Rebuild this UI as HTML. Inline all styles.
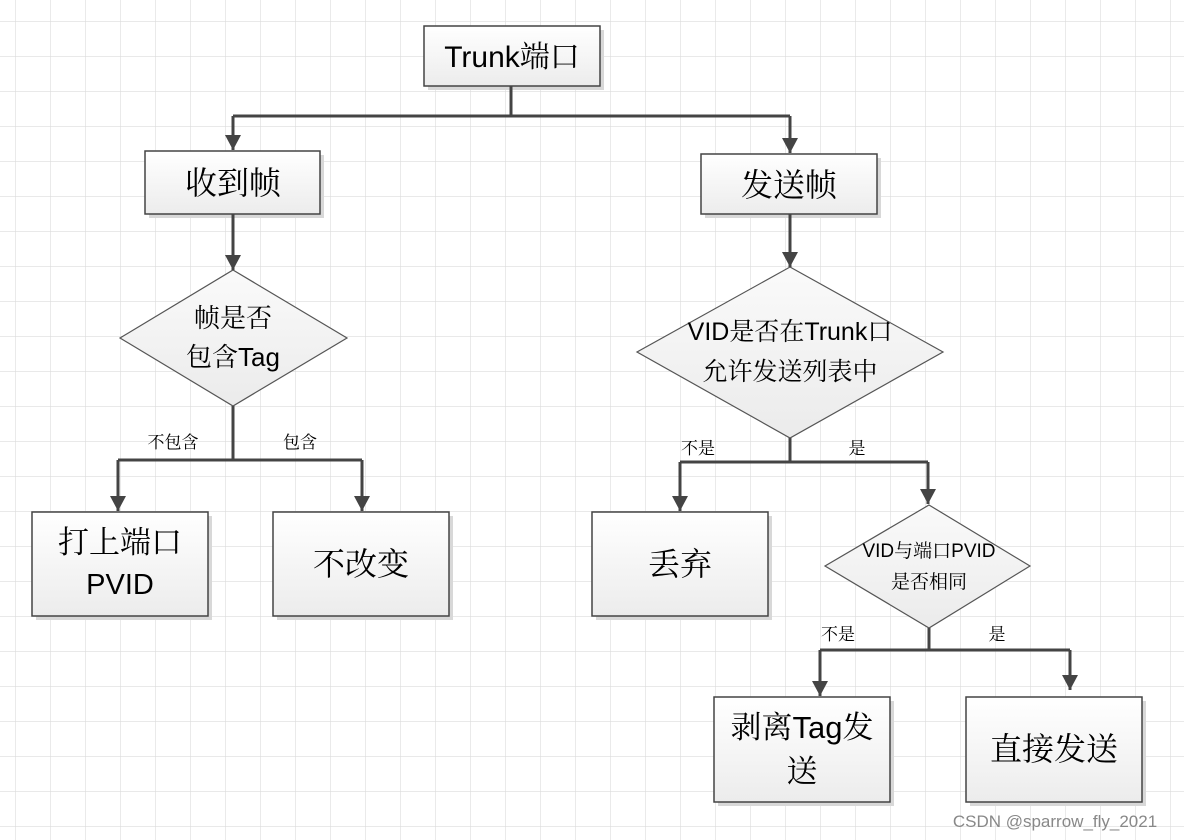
<!DOCTYPE html>
<html><head><meta charset="utf-8"><style>
html,body{margin:0;padding:0;background:#fff;}
svg{display:block;}
text{font-family:"Liberation Sans","Noto Serif CJK SC",serif;fill:#000;text-anchor:middle;}
</style></head><body>
<svg width="1184" height="840" viewBox="0 0 1184 840" xmlns="http://www.w3.org/2000/svg">
<defs>
<pattern id="g" x="15" y="21" width="35" height="35" patternUnits="userSpaceOnUse">
<path d="M0 0H35M0 0V35" stroke="#dcdcdc" stroke-width="1.2" fill="none"/>
</pattern>
<linearGradient id="bg" x1="0" y1="0" x2="0" y2="1"><stop offset="0" stop-color="#fff"/><stop offset="1" stop-color="#ececec"/></linearGradient>
<linearGradient id="dg" x1="0" y1="0" x2="0" y2="1"><stop offset="0" stop-color="#fafafa"/><stop offset="1" stop-color="#ebebeb"/></linearGradient>
<marker id="a" markerWidth="15" markerHeight="16" refX="15" refY="8" orient="auto" markerUnits="userSpaceOnUse" viewBox="0 0 15 16">
<path d="M0 0L15 8L0 16Z" fill="#444"/>
</marker>
</defs>
<rect width="1184" height="840" fill="url(#g)"/>
<g fill="#d8d8d8">
<rect x="428" y="30" width="176" height="60"/>
<rect x="149" y="155" width="175" height="63"/>
<rect x="705" y="158" width="176" height="60"/>
<rect x="36" y="516" width="176" height="104"/>
<rect x="277" y="516" width="176" height="104"/>
<rect x="596" y="516" width="176" height="104"/>
<rect x="718" y="701" width="176" height="105"/>
<rect x="970" y="701" width="176" height="105"/>
</g>
<g fill="url(#bg)" stroke="#444" stroke-width="1.5">
<rect x="424" y="26" width="176" height="60"/>
<rect x="145" y="151" width="175" height="63"/>
<rect x="701" y="154" width="176" height="60"/>
<rect x="32" y="512" width="176" height="104"/>
<rect x="273" y="512" width="176" height="104"/>
<rect x="592" y="512" width="176" height="104"/>
<rect x="714" y="697" width="176" height="105"/>
<rect x="966" y="697" width="176" height="105"/>
</g>
<g fill="url(#dg)" stroke="#555" stroke-width="1.2">
<polygon points="233,270 347,338 233,406 120,338"/>
<polygon points="790,267 943,352 790,438 637,352"/>
<polygon points="929,505 1030,566 929,628 825,566"/>
</g>
<g stroke="#444" stroke-width="3" fill="none">
<path d="M511 86V116M233 116H790"/>
<path d="M233 116V150" marker-end="url(#a)"/>
<path d="M790 116V153" marker-end="url(#a)"/>
<path d="M233 214V270" marker-end="url(#a)"/>
<path d="M790 214V267" marker-end="url(#a)"/>
<path d="M233 406V460M118 460H362"/>
<path d="M118 460V511" marker-end="url(#a)"/>
<path d="M362 460V511" marker-end="url(#a)"/>
<path d="M790 438V462M680 462H928"/>
<path d="M680 462V511" marker-end="url(#a)"/>
<path d="M928 462V504" marker-end="url(#a)"/>
<path d="M929 628V650M820 650H1070"/>
<path d="M820 650V696" marker-end="url(#a)"/>
<path d="M1070 650V690" marker-end="url(#a)"/>
</g>
<text x="512" y="67" font-size="30">Trunk端口</text>
<text x="233" y="194" font-size="32">收到帧</text>
<text x="789" y="196" font-size="32">发送帧</text>
<text x="233" y="327" font-size="26">帧是否</text>
<text x="233" y="366" font-size="26">包含Tag</text>
<text x="790" y="340" font-size="25">VID是否在Trunk口</text>
<text x="790" y="380" font-size="25">允许发送列表中</text>
<text x="929" y="557" font-size="19">VID与端口PVID</text>
<text x="929" y="588" font-size="19">是否相同</text>
<text x="120" y="553" font-size="31">打上端口</text>
<text x="120" y="594" font-size="29">PVID</text>
<text x="361" y="575" font-size="32">不改变</text>
<text x="680" y="575" font-size="32">丢弃</text>
<text x="802" y="738" font-size="31">剥离Tag发</text>
<text x="802" y="782" font-size="31">送</text>
<text x="1054" y="760" font-size="32">直接发送</text>
<g font-size="17">
<text x="173" y="448">不包含</text>
<text x="300" y="448">包含</text>
<text x="698" y="454">不是</text>
<text x="857" y="454">是</text>
<text x="838" y="640">不是</text>
<text x="997" y="640">是</text>
</g>
<text x="1055" y="827" font-size="17" style="fill:#888">CSDN @sparrow_fly_2021</text>
</svg>
</body></html>
